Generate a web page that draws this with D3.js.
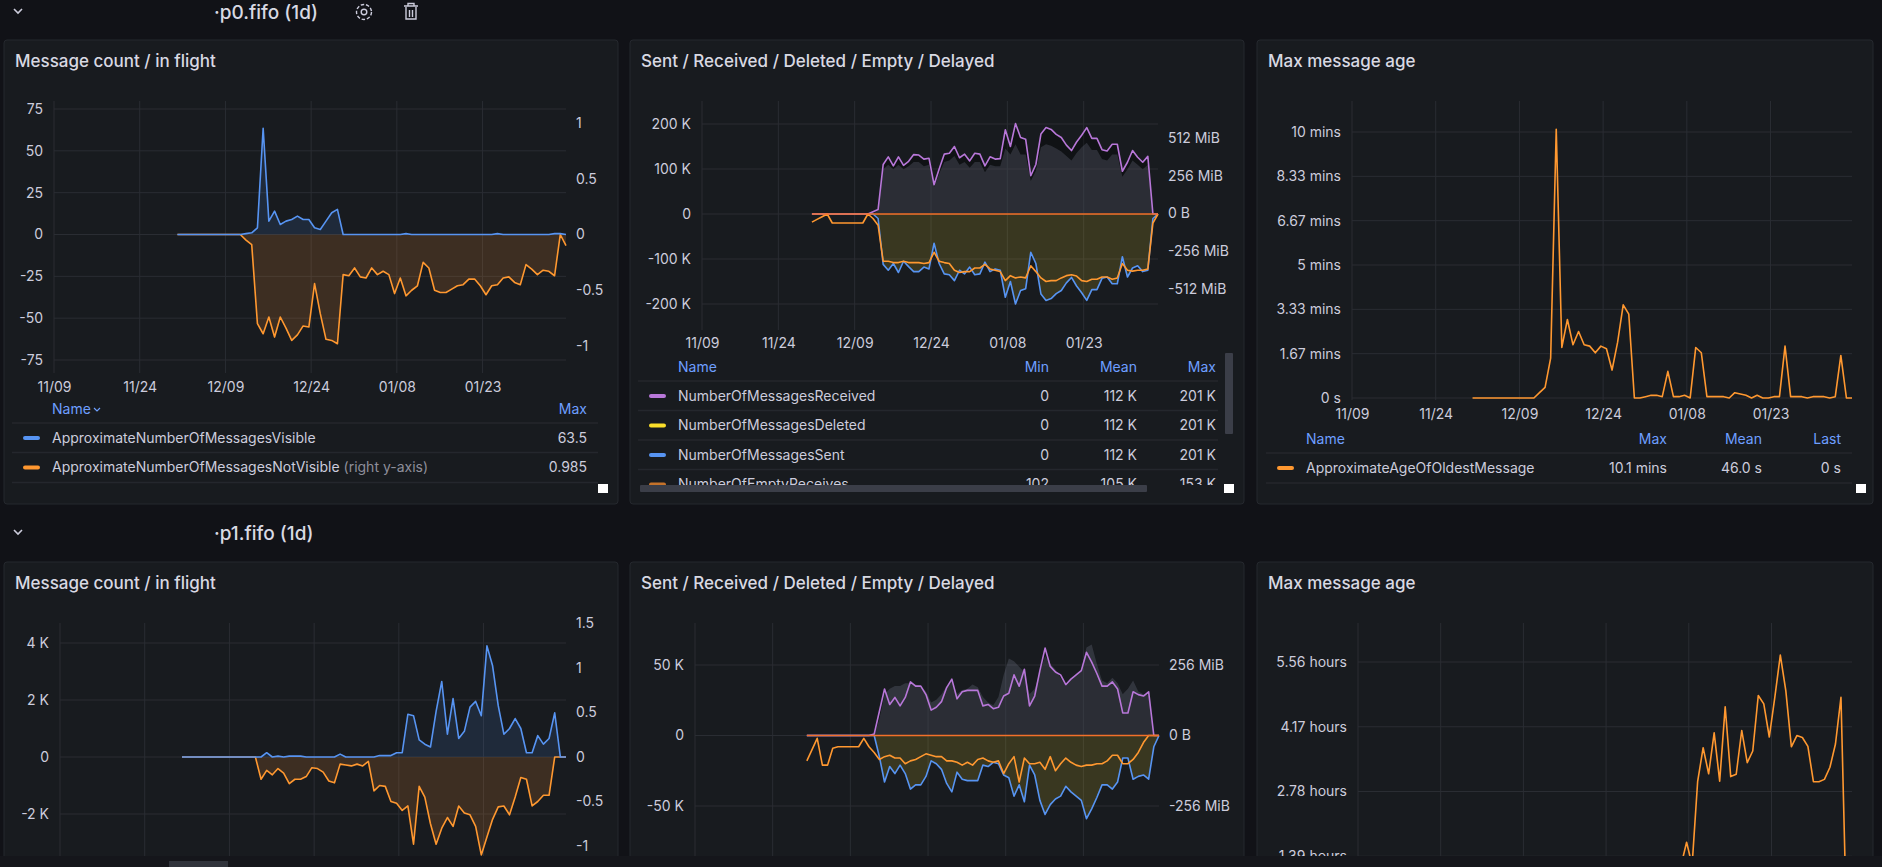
<!DOCTYPE html>
<meta charset="utf-8">
<script src="https://cdn.jsdelivr.net/npm/d3@7"></script>
<style>
  body { margin: 0; background: #111217; }
  svg text { font-family: Inter, "Noto Sans", sans-serif; }
</style>
<body>
<svg id="dash" width="1882" height="867"></svg>
<script>
  // ---- data (one value per day, starting ~Dec 1) ----
  const tickDates = ['2023-11-09', '2023-11-24', '2023-12-09', '2023-12-24', '2024-01-08', '2024-01-23'];
  const tickLabels = ['11/09', '11/24', '12/09', '12/24', '01/08', '01/23'];

  // row 1 : p0.fifo
  const p0Visible = [0,0,0,0,0,0,0,0,0,0,0,0,0.5,1,4,63.5,8,14,6,8,9,11,9,9,4,3,8,13,15,0,0,0,0,0,0,0,0,0,0,0,0.5,0,0,0,0,0,0,0,0,0,0,0,0,0,0,0,0.5,0,0,0,0,0,0,0,0,0,0.5,0.5,0];
  const p0NotVisible = [0,0,0,0,0,0,0,0,0,0,0,0,0.05,0.09,0.8,0.89,0.74,0.92,0.74,0.84,0.95,0.9,0.82,0.83,0.44,0.71,0.94,0.95,0.98,0.36,0.37,0.3,0.38,0.39,0.3,0.36,0.33,0.36,0.53,0.39,0.55,0.5,0.46,0.25,0.3,0.5,0.52,0.52,0.49,0.46,0.45,0.4,0.4,0.46,0.54,0.46,0.45,0.39,0.38,0.43,0.45,0.27,0.31,0.36,0.32,0.33,0.37,0,0.1];
  const p0Received = [0,0,0,0,0,0,0,0,0,0,0,0,5,10,110,127,107,127,108,117,132,131,122,124,65,100,133,135,150,125,133,118,135,133,107,127,122,123,187,150,201,170,166,85,110,178,192,188,177,170,153,141,160,175,192,168,168,143,140,155,155,95,115,141,126,115,128,0,0];
  const p0Sent = [0,0,0,0,0,0,0,0,0,0,0,0,0,10,112,125,110,130,105,117,128,128,118,122,65,110,133,135,148,125,133,118,135,133,107,128,122,125,185,150,200,170,166,85,110,178,192,188,177,170,153,141,160,175,192,168,168,143,140,155,155,95,140,120,115,128,125,10,0];
  const p0Deleted = p0Sent;
  const p0Empty = [18,12,6,0,20,20,20,20,20,20,20,0,10,25,105,105,108,108,105,108,108,108,110,108,85,105,108,110,125,130,128,128,120,120,112,122,125,128,148,137,142,140,142,115,128,142,150,148,148,142,137,135,138,148,150,145,145,140,140,145,142,110,125,127,125,125,122,20,0];
  const p0SizeMiB = [0,0,0,0,0,0,0,0,0,0,0,0,0,20,300,330,300,330,300,320,350,350,320,330,180,270,350,360,390,330,350,310,350,350,280,330,320,320,440,400,470,400,400,220,290,450,470,460,440,420,390,360,410,450,480,430,430,370,360,400,400,250,300,360,330,300,330,0,0];
  const p0AgeSec = [0,0,0,0,0,0,0,0,0,0,0,0,12,24,90,606,114,177,120,150,120,117,102,117,111,63,126,210,189,0,0,3,6,6,3,60,3,3,6,0,114,102,3,3,3,3,0,12,9,6,0,6,0,0,3,3,117,3,3,3,0,3,3,3,0,3,96,0,0];

  // row 2 : p1.fifo
  const p1Visible = [0,0,0,0,0,0,0,0,0,0,0,0,0,0,0,150,0,30,0,30,30,30,0,0,0,0,0,0,100,0,0,0,0,0,0,50,50,50,150,150,1500,1450,600,450,350,1600,2650,800,2050,650,900,1750,1950,1450,3900,3200,1800,800,1000,1350,1000,150,150,750,450,650,1550,0,0];
  const p1NotVisible = [0,0,0,0,0,0,0,0,0,0,0,0,0,0,0.25,0.15,0.2,0.13,0.18,0.3,0.25,0.25,0.22,0.12,0.13,0.17,0.27,0.29,0.08,0.09,0.1,0.08,0.1,0.05,0.38,0.32,0.33,0.5,0.52,0.6,0.55,0.98,0.33,0.45,0.75,0.98,0.8,0.68,0.78,0.55,0.63,0.65,0.78,1.1,0.9,0.7,0.56,0.55,0.65,0.45,0.23,0.25,0.55,0.5,0.43,0.43,0,0,0];
  const p1Received = [0,0,0,0,0,0,0,0,0,0,0,0,0,1,17,33,22,27,21,27,38,35,35,29,18,20,24,34,40,26,31,32,32,32,21,22,19,20,28,30,43,35,47,21,28,46,62,49,45,43,36,40,43,46,59,52,44,35,35,38,33,16,16,31,29,28,31,0,0];
  const p1Sent = [0,0,0,0,0,0,0,0,0,0,0,0,0,0,15,33,22,27,21,27,38,35,35,29,18,20,24,34,40,26,31,32,32,32,21,22,19,20,28,30,43,35,47,21,28,46,56,49,45,43,36,40,43,46,59,52,44,35,35,38,33,16,16,31,29,28,31,8,0];
  const p1Deleted = p1Sent;
  const p1Empty = [18,10,2,21,21,9,8,8,8,8,8,2,8,12,17,15,14,16,16,20,18,17,15,13,14,15,15,18,18,19,21,19,21,17,16,18,19,18,27,20,15,33,16,20,20,19,24,15,25,20,16,19,21,22,21,21,20,20,18,14,14,20,20,17,12,5,0,0,0];
  const p1SizeMiB = [0,0,0,0,0,0,0,0,0,0,0,0,0,0,60,150,170,180,180,190,190,185,180,160,120,130,150,180,200,150,165,170,185,175,140,120,110,140,220,280,270,250,230,150,170,230,290,260,240,210,180,200,220,240,320,330,260,200,190,210,190,150,170,200,160,150,150,0,0];
  const p1AgeHours = [0,0,0,0,0,0,0,0,0,0,0,0,0.2,0.3,0.4,0.3,0.5,0.4,0.6,0.5,0.4,0.6,0.7,0.5,0.6,0.8,0.7,0.6,0.9,0.8,0.7,0.9,1.0,0.8,0.9,1.1,1.0,1.2,1.69,1.2,2.99,3.72,3.16,4.04,3.0,4.6,3.1,3.15,4.09,3.4,3.65,4.84,4.66,3.95,4.8,5.71,4.94,3.74,3.98,3.94,3.75,2.99,2.99,3.04,3.3,3.8,4.8,0,0];
  const delayed = new Array(69).fill(0);

  const colors = { blue: '#5794f2', orange: '#ff9830', purple: '#b877d9', yellow: '#fade2a', red: '#f2702a' };
  const textCol = '#ccccdc';
  const headCol = '#6e9fff';
  const gridCol = '#2a2d33';

  const DAY = 864e5;
  const t0 = new Date(2023, 10, 9).getTime();
  const dates = d3.range(69).map(i => new Date(t0 + (21.6 + i) * DAY));
  const ticks = tickDates.map(s => { const p = s.split('-'); return new Date(+p[0], +p[1] - 1, +p[2]); });

  const svg = d3.select('#dash');

  function rowHeader (y, title, icons) {
    svg.append('path').attr('d', `M14,${y - 3} l4,4 l4,-4`).attr('fill', 'none')
      .attr('stroke', textCol).attr('stroke-width', 1.6);
    svg.append('text').attr('x', 214).attr('y', y).attr('dy', '0.35em')
      .attr('fill', '#d8d9e3').attr('font-size', 19).attr('font-weight', 500).text(title);
    if (!icons) return;
    const g = svg.append('g').attr('fill', 'none').attr('stroke', textCol).attr('stroke-width', 1.4);
    g.append('circle').attr('cx', 364).attr('cy', y).attr('r', 7.5).attr('stroke-dasharray', '3.5 1.8');
    g.append('circle').attr('cx', 364).attr('cy', y).attr('r', 2.8);
    g.append('path').attr('d', `M404,${y - 6} h14 M408,${y - 6} v-2.5 h6 v2.5 M406,${y - 5} v12 h10 v-12 M409.5,${y - 2} v7 M412.5,${y - 2} v7`);
  }

  function panel (x, y, w, h, title) {
    svg.append('rect').attr('x', x).attr('y', y).attr('width', w).attr('height', h).attr('rx', 3)
      .attr('fill', '#181b1f').attr('stroke', '#25282e');
    svg.append('text').attr('x', x + 11).attr('y', y + 21).attr('dy', '0.35em')
      .attr('fill', '#d8d9e3').attr('font-size', 17).attr('font-weight', 500).text(title);
  }

  function chart (c) {
    const x = d3.scaleTime().domain([new Date(t0), new Date(t0 + 89.6 * DAY)]).range([c.left, c.right]);
    const yl = d3.scaleLinear().domain(c.yl.domain).range(c.yl.range);
    const yr = c.yr ? d3.scaleLinear().domain(c.yr.domain).range(c.yr.range) : null;
    const g = svg.append('g');
    // grid
    g.selectAll('.vg').data(ticks).join('line')
      .attr('x1', d => x(d)).attr('x2', d => x(d)).attr('y1', c.top).attr('y2', c.bottom)
      .attr('stroke', gridCol);
    g.selectAll('.hg').data(c.yl.ticks).join('line')
      .attr('x1', c.left).attr('x2', c.right).attr('y1', d => yl(d)).attr('y2', d => yl(d))
      .attr('stroke', gridCol);
    // axes
    if (c.xLabelY) {
      const ax = g.append('g').attr('transform', `translate(0,${c.xLabelY})`)
        .call(d3.axisBottom(x).tickValues(ticks).tickSize(0).tickFormat((d, i) => tickLabels[i]));
      ax.select('.domain').remove();
      ax.selectAll('text').attr('dy', '0.35em').attr('y', 0);
    }
    const al = g.append('g').attr('transform', `translate(${c.left - 8},0)`)
      .call(d3.axisLeft(yl).tickValues(c.yl.ticks).tickSize(0).tickFormat((d, i) => c.yl.labels[i]));
    al.select('.domain').remove();
    if (yr) {
      const ar = g.append('g').attr('transform', `translate(${c.right + 7},0)`)
        .call(d3.axisRight(yr).tickValues(c.yr.ticks).tickSize(0).tickFormat((d, i) => c.yr.labels[i]));
      ar.select('.domain').remove();
    }
    g.selectAll('.tick text').attr('fill', textCol).attr('font-size', 14).attr('font-family', 'Inter, sans-serif');
    // series
    c.series.forEach(s => {
      const ys = s.axis === 'right' ? yr : yl;
      const sign = s.neg ? -1 : 1;
      if (s.fill) {
        g.append('path').datum(s.values)
          .attr('d', d3.area().x((d, i) => x(dates[i])).y0(ys(0)).y1(d => ys(sign * d)))
          .attr('fill', s.fill).attr('fill-opacity', s.fillOpacity);
      }
      if (s.color) {
        g.append('path').datum(s.values)
          .attr('d', d3.line().x((d, i) => x(dates[i])).y(d => ys(sign * d)))
          .attr('fill', 'none').attr('stroke', s.color).attr('stroke-width', 1.6)
          .attr('stroke-linejoin', 'round');
      }
    });
  }

  function legend (c) {
    const g = svg.append('g');
    if (c.clip) {
      const id = 'clip' + Math.round(c.headY);
      svg.append('clipPath').attr('id', id).append('rect')
        .attr('x', c.nameX - 40).attr('y', c.headY - 12).attr('width', 800).attr('height', c.clip);
      g.attr('clip-path', `url(#${id})`);
    }
    g.append('text').attr('x', c.nameX).attr('y', c.headY).attr('dy', '0.35em')
      .attr('fill', headCol).attr('font-size', 14).text('Name');
    if (c.sortArrow) {
      g.append('path').attr('d', `M${c.nameX + 42},${c.headY - 1} l3,3 l3,-3`).attr('fill', 'none')
        .attr('stroke', headCol).attr('stroke-width', 1.2);
    }
    c.cols.forEach((col, j) => {
      g.append('text').attr('x', c.colX[j]).attr('y', c.headY).attr('dy', '0.35em')
        .attr('text-anchor', 'end').attr('fill', headCol).attr('font-size', 14).text(col);
    });
    c.rows.forEach((r, k) => {
      const yy = c.headY + 29 + k * 29.5;
      g.append('line').attr('x1', c.nameX - 40).attr('x2', c.right).attr('y1', yy - 15).attr('y2', yy - 15)
        .attr('stroke', '#24272d').attr('stroke-width', 1.5);
      g.append('line').attr('x1', c.nameX - 27).attr('x2', c.nameX - 14).attr('y1', yy).attr('y2', yy)
        .attr('stroke', r.color).attr('stroke-width', 4).attr('stroke-linecap', 'round');
      const t = g.append('text').attr('x', c.nameX).attr('y', yy).attr('dy', '0.35em')
        .attr('fill', textCol).attr('font-size', 14).text(r.name);
      if (r.note) t.append('tspan').attr('fill', '#8e8e9a').text(' ' + r.note);
      r.vals.forEach((v, j) => {
        g.append('text').attr('x', c.colX[j]).attr('y', yy).attr('dy', '0.35em')
          .attr('text-anchor', 'end').attr('fill', textCol).attr('font-size', 14).text(v);
      });
      if (k === c.rows.length - 1 && !c.clip) {
        g.append('line').attr('x1', c.nameX - 40).attr('x2', c.right).attr('y1', yy + 15).attr('y2', yy + 15)
          .attr('stroke', '#24272d').attr('stroke-width', 1.5);
      }
    });
  }

  function corner (x, y) {
    svg.append('rect').attr('x', x).attr('y', y).attr('width', 10).attr('height', 9).attr('fill', '#ffffff');
  }

  // ================= row 1 =================
  rowHeader(12, '·p0.fifo (1d)', true);

  panel(4, 40, 614, 464, 'Message count / in flight');
  chart({
    left: 54, right: 566, top: 101, bottom: 373, xLabelY: 387,
    yl: { domain: [75, -75], range: [109, 360], ticks: [75, 50, 25, 0, -25, -50, -75], labels: ['75', '50', '25', '0', '-25', '-50', '-75'] },
    yr: { domain: [1, -1], range: [123, 346], ticks: [1, 0.5, 0, -0.5, -1], labels: ['1', '0.5', '0', '-0.5', '-1'] },
    series: [
      { values: p0NotVisible, axis: 'right', neg: true, color: colors.orange, fill: colors.orange, fillOpacity: 0.16 },
      { values: p0Visible, color: colors.blue, fill: colors.blue, fillOpacity: 0.13 }
    ]
  });
  legend({
    nameX: 52, headY: 409, right: 598, sortArrow: true, cols: ['Max'], colX: [587],
    rows: [
      { name: 'ApproximateNumberOfMessagesVisible', color: colors.blue, vals: ['63.5'] },
      { name: 'ApproximateNumberOfMessagesNotVisible', note: '(right y-axis)', color: colors.orange, vals: ['0.985'] }
    ]
  });
  corner(598, 484);

  panel(630, 40, 614, 464, 'Sent / Received / Deleted / Empty / Delayed');
  chart({
    left: 702, right: 1158, top: 101, bottom: 330, xLabelY: 343,
    yl: { domain: [200000, -200000], range: [124, 304], ticks: [200000, 100000, 0, -100000, -200000], labels: ['200 K', '100 K', '0', '-100 K', '-200 K'] },
    yr: { domain: [512, -512], range: [138, 289], ticks: [512, 256, 0, -256, -512], labels: ['512 MiB', '256 MiB', '0 B', '-256 MiB', '-512 MiB'] },
    series: [
      { values: p0Received.map(v => v * 1000), fill: '#000000', fillOpacity: 0.3 },
      { values: p0SizeMiB, axis: 'right', fill: '#b4b8d8', fillOpacity: 0.17 },
      { values: p0Deleted.map(v => v * 1000), neg: true, fill: colors.yellow, fillOpacity: 0.15 },
      { values: p0Sent.map(v => v * 1000), neg: true, color: colors.blue },
      { values: p0Received.map(v => v * 1000), color: colors.purple },
      { values: p0Empty.map(v => v * 1000), neg: true, color: colors.orange },
      { values: delayed, color: colors.red }
    ]
  });
  legend({
    nameX: 678, headY: 367, right: 1218, clip: 130, cols: ['Min', 'Mean', 'Max'], colX: [1049, 1137, 1216],
    rows: [
      { name: 'NumberOfMessagesReceived', color: colors.purple, vals: ['0', '112 K', '201 K'] },
      { name: 'NumberOfMessagesDeleted', color: colors.yellow, vals: ['0', '112 K', '201 K'] },
      { name: 'NumberOfMessagesSent', color: colors.blue, vals: ['0', '112 K', '201 K'] },
      { name: 'NumberOfEmptyReceives', color: '#c4722a', vals: ['102', '105 K', '153 K'] }
    ]
  });
  svg.append('rect').attr('x', 640).attr('y', 485).attr('width', 507).attr('height', 7).attr('rx', 1).attr('fill', '#3b3e48');
  svg.append('rect').attr('x', 1225).attr('y', 353).attr('width', 8).attr('height', 81).attr('rx', 1).attr('fill', '#3b3e48');
  corner(1224, 484);

  panel(1257, 40, 616, 464, 'Max message age');
  chart({
    left: 1352, right: 1852, top: 101, bottom: 400, xLabelY: 414,
    yl: { domain: [0, 600], range: [398, 132], ticks: [0, 100, 200, 300, 400, 500, 600], labels: ['0 s', '1.67 mins', '3.33 mins', '5 mins', '6.67 mins', '8.33 mins', '10 mins'] },
    series: [{ values: p0AgeSec, color: colors.orange }]
  });
  legend({
    nameX: 1306, headY: 439, right: 1852, cols: ['Max', 'Mean', 'Last'], colX: [1667, 1762, 1841],
    rows: [{ name: 'ApproximateAgeOfOldestMessage', color: colors.orange, vals: ['10.1 mins', '46.0 s', '0 s'] }]
  });
  corner(1856, 484);

  // ================= row 2 =================
  rowHeader(533, '·p1.fifo (1d)', false);

  panel(4, 562, 614, 400, 'Message count / in flight');
  chart({
    left: 60, right: 566, top: 623, bottom: 930,
    yl: { domain: [4000, -2000], range: [643, 814], ticks: [4000, 2000, 0, -2000], labels: ['4 K', '2 K', '0', '-2 K'] },
    yr: { domain: [1.5, 0], range: [623.5, 757], ticks: [1.5, 1, 0.5, 0, -0.5, -1], labels: ['1.5', '1', '0.5', '0', '-0.5', '-1'] },
    series: [
      { values: p1NotVisible, axis: 'right', neg: true, color: colors.orange, fill: colors.orange, fillOpacity: 0.16 },
      { values: p1Visible, color: colors.blue, fill: colors.blue, fillOpacity: 0.13 }
    ]
  });

  panel(630, 562, 614, 400, 'Sent / Received / Deleted / Empty / Delayed');
  chart({
    left: 695, right: 1159, top: 623, bottom: 930,
    yl: { domain: [50000, -50000], range: [665, 806], ticks: [50000, 0, -50000], labels: ['50 K', '0', '-50 K'] },
    yr: { domain: [256, -256], range: [665, 806], ticks: [256, 0, -256], labels: ['256 MiB', '0 B', '-256 MiB'] },
    series: [
      { values: p1Received.map(v => v * 1000), fill: '#000000', fillOpacity: 0.3 },
      { values: p1SizeMiB, axis: 'right', fill: '#b4b8d8', fillOpacity: 0.17 },
      { values: p1Deleted.map(v => v * 1000), neg: true, fill: colors.yellow, fillOpacity: 0.15 },
      { values: p1Sent.map(v => v * 1000), neg: true, color: colors.blue },
      { values: p1Received.map(v => v * 1000), color: colors.purple },
      { values: p1Empty.map(v => v * 1000), neg: true, color: colors.orange },
      { values: delayed, color: colors.red }
    ]
  });

  panel(1257, 562, 616, 400, 'Max message age');
  chart({
    left: 1358, right: 1852, top: 623, bottom: 930,
    yl: { domain: [0, 5.56], range: [921, 662], ticks: [1.39, 2.78, 4.17, 5.56], labels: ['1.39 hours', '2.78 hours', '4.17 hours', '5.56 hours'] },
    series: [{ values: p1AgeHours, color: colors.orange }]
  });

  // bottom scroll strip
  svg.append('rect').attr('x', 0).attr('y', 856).attr('width', 1882).attr('height', 11).attr('fill', '#15161b');
  svg.append('rect').attr('x', 169).attr('y', 861).attr('width', 59).attr('height', 6).attr('fill', '#30333b');
</script>
</body>
